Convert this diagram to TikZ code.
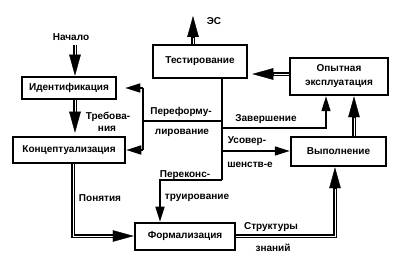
\documentclass[tikz,border=0pt]{standalone}
\usepackage{fontspec}
\setmainfont{Liberation Sans}
\usetikzlibrary{arrows.meta,calc}
\begin{document}
\begin{tikzpicture}[x=1pt,y=-1pt,
  box/.style={draw, line width=2.5pt, inner sep=0pt, align=center,
    font=\bfseries\fontsize{10}{14}\selectfont},
  lbl/.style={inner sep=0pt, font=\bfseries\fontsize{10}{12}\selectfont},
  dbl/.style={draw, line width=2pt, double=white, double distance=0.9pt},
  dtip/.style={-{Triangle[length=21pt,width=11.5pt]}, line width=0.4pt},
  sgl/.style={draw, line width=1.6pt},
  stip/.style={-{Triangle[length=15pt,width=9pt]}}
]
\useasboundingbox (0,0) rectangle (400,270);

% boxes
\node[box, minimum width=94pt, minimum height=22pt] (ident) at (69,88) {Идентификация};
\node[box, minimum width=112pt, minimum height=26pt] (conc) at (69,150) {Концептуализация};
\node[box, minimum width=94pt, minimum height=33pt] (test) at (200,61.5) {Тестирование};
\node[box, minimum width=98pt, minimum height=37pt] (opyt) at (339,76.5) {Опытная\\эксплуатация};
\node[box, minimum width=95pt, minimum height=29pt] (vyp) at (338.5,151.5) {Выполнение};
\node[box, minimum width=100pt, minimum height=27pt] (form) at (185,236.5) {Формализация};

% labels
\node[lbl] (nach) at (71,37) {Начало};
\node[lbl] (es) at (214,21) {ЭС};
\node[lbl] (treb1) at (108,117) {Требова-};
\node[lbl] (treb2) at (107,129) {ния};
\node[lbl] (pon) at (100,198) {Понятия};
\node[lbl] (pf1) at (181,112) {Переформу-};
\node[lbl] (pf2) at (182,133) {лирование};
\node[lbl] (zav) at (266,119) {Завершение};
\node[lbl] (us1) at (247,141) {Усовер-};
\node[lbl] (us2) at (250,165) {шенств-е};
\node[lbl] (pk1) at (185,175) {Переконс-};
\node[lbl] (pk2) at (197,198) {труирование};
\node[lbl] (st1) at (271,227) {Структуры};
\node[lbl] (st2) at (273,248) {знаний};

% double connectors
\coordinate (a1) at (75,45);
\coordinate (a1e) at (ident.north -| a1);
\draw[dbl, shorten >=19pt] (a1) -- (a1e);
\draw[dtip] ($(a1e)!21pt!(a1)$) -- (a1e);

\coordinate (b1) at (ident.south -| a1);
\coordinate (b2) at ([yshift=3pt]conc.north -| a1);
\draw[dbl, shorten >=19pt] (b1) -- (b2);
\draw[dtip] ($(b2)!21pt!(b1)$) -- (b2);

\coordinate (cc) at (73,236);
\coordinate (ce) at (cc -| form.west);
\draw[dbl, shorten >=19pt] (conc.south -| cc) -- (cc) -- (ce);
\draw[dtip] ($(ce)!21pt!(cc)$) -- (ce);

\coordinate (fv) at (335,236);
\coordinate (fve) at (fv |- vyp.south);
\draw[dbl, shorten >=19pt] (form.east |- fv) -- (fv) -- (fve);
\draw[dtip] ($(fve)!21pt!(fv)$) -- (fve);

\coordinate (vo) at (354,120);
\coordinate (vo1) at (vyp.north -| vo);
\coordinate (vo2) at (opyt.south -| vo);
\draw[dbl, shorten >=19pt] (vo1) -- (vo2);
\draw[dtip] ($(vo2)!21pt!(vo1)$) -- (vo2);

\coordinate (ot) at (270,74);
\coordinate (ot1) at (opyt.west |- ot);
\coordinate (ot2) at ([xshift=4pt]test.east |- ot);
\draw[dbl, shorten >=19pt] (ot1) -- (ot2);
\draw[dtip] ($(ot2)!21pt!(ot1)$) -- (ot2);

\coordinate (te) at (193,16);
\coordinate (te1) at (test.north -| te);
\draw[dbl, shorten >=19pt] (te1) -- (te);
\draw[dtip] ($(te)!21pt!(te1)$) -- (te);

% single connectors
\coordinate (s0) at (222,180);
\draw[sgl] (test.south -| s0) -- (s0);
\coordinate (j1) at (222,121);
\coordinate (k1) at (143,121);
\coordinate (k2) at (143,88);
\coordinate (k3) at (143,150);
\draw[sgl] (j1) -- (k1);
\draw[sgl] (k2) -- (k3);
\draw[sgl, stip] (k2) -- ([xshift=8pt]ident.east);
\draw[sgl, stip] (k3) -- (conc.east |- k3);

\coordinate (j2) at (222,128);
\coordinate (z) at (326,128);
\draw[sgl, stip] (j2) -- (z) -- (opyt.south -| z);

\coordinate (j3) at (222,151);
\draw[sgl, stip] (j3) -- (vyp.west |- j3);

\coordinate (p1) at (160,180);
\draw[sgl, stip] (s0) -- (p1) -- (form.north -| p1);
\end{tikzpicture}
\end{document}
